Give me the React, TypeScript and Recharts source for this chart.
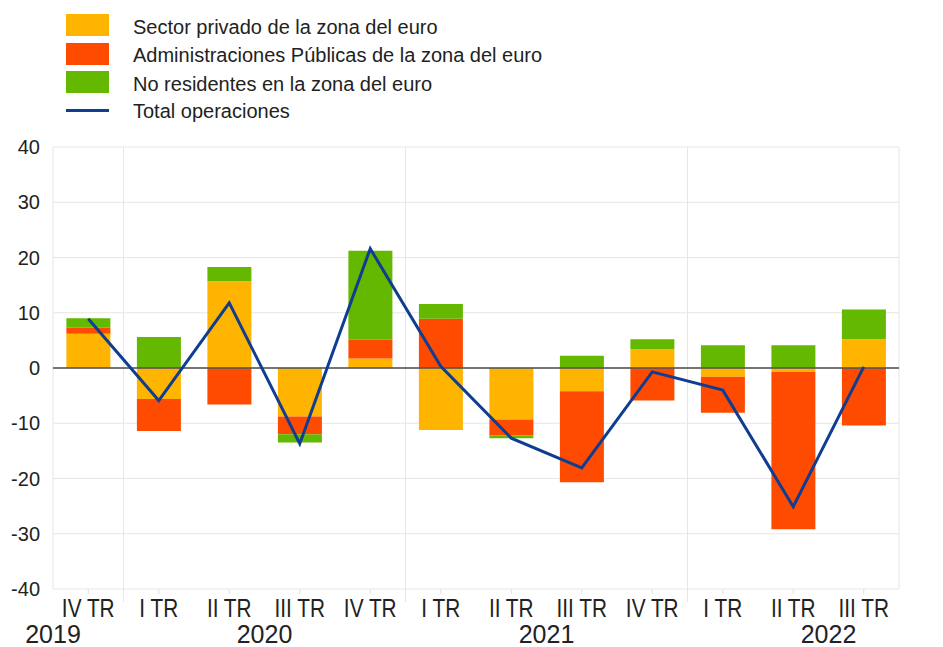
import React from 'react';
import { ComposedChart, Bar, Line, XAxis, YAxis, CartesianGrid, ReferenceLine } from 'recharts';

const quarters = ['IV TR', 'I TR', 'II TR', 'III TR', 'IV TR', 'I TR', 'II TR', 'III TR', 'IV TR', 'I TR', 'II TR', 'III TR'];
const privado = [6.2, -5.6, 15.7, -8.8, 1.7, -11.2, -9.3, -4.2, 3.4, -1.6, -0.7, 5.2];
const publicas = [1.1, -5.8, -6.6, -3.2, 3.4, 8.9, -2.9, -16.5, -5.9, -6.5, -28.5, -10.4];
const noResidentes = [1.7, 5.6, 2.6, -1.5, 16.1, 2.7, -0.5, 2.2, 1.8, 4.1, 4.1, 5.4];
const total = [8.9, -5.9, 11.8, -13.7, 21.6, 0.3, -12.7, -18.1, -0.7, -4.0, -25.1, 0.2];
const yTicks = [-40, -30, -20, -10, 0, 10, 20, 30, 40];
// index of the quarter next to which each year label sits, and which side of it
const yearLabels: Record<number, [string, number]> = { 0: ['2019', -0.5], 2: ['2020', 0.5], 6: ['2021', 0.5], 10: ['2022', 0.5] };
const yearStarts = [1, 5, 9];

const COLORS = { privado: '#FFB400', publicas: '#FF4B00', noRes: '#65B800', total: '#0f3d91' };
const LEGEND = [
  { label: 'Sector privado de la zona del euro', color: COLORS.privado },
  { label: 'Administraciones Públicas de la zona del euro', color: COLORS.publicas },
  { label: 'No residentes en la zona del euro', color: COLORS.noRes },
];

const W = 943, H = 647, LEFT_W = 53, RIGHT_W = 44, TOP = 147, X_H = 58;
const BAND = (W - LEFT_W - RIGHT_W) / quarters.length;
const FONT = 'Arial, "Liberation Sans", sans-serif';

const data = quarters.map((q, i) => ({
  q, privado: privado[i], publicas: publicas[i], noRes: noResidentes[i], total: total[i],
}));

function QuarterTick(props: any) {
  const { x, y, index, payload } = props;
  const yr = yearLabels[index];
  return (
    <g>
      {yearStarts.includes(index) && (
        <line x1={x - BAND / 2} x2={x - BAND / 2} y1={y - 5} y2={y + 8} stroke="#e6e6e6" />
      )}
      {/* the source uses a condensed face for the quarter labels */}
      <text transform={`translate(${x},${y + 23}) scale(0.8,1)`} textAnchor="middle" fontSize={26} fill="#222"
            fontFamily={FONT}>{payload.value}</text>
      {yr && (
        <text x={x + yr[1] * BAND} y={y} dy={49} textAnchor="middle" fontSize={25} fill="#222" fontFamily={FONT}>{yr[0]}</text>
      )}
    </g>
  );
}

function LegendBox() {
  return (
    <div style={{ position: 'absolute', left: 66, top: 11, fontFamily: FONT, fontSize: 20, color: '#222' }}>
      {LEGEND.map(l => (
        <div key={l.label} style={{ display: 'flex', alignItems: 'center', height: 28.5 }}>
          <div style={{ width: 43, height: 22, background: l.color }} />
          <span style={{ marginLeft: 24, marginTop: 4 }}>{l.label}</span>
        </div>
      ))}
      <div style={{ display: 'flex', alignItems: 'center', height: 28.5 }}>
        <div style={{ width: 43, height: 3, background: COLORS.total }} />
        <span style={{ marginLeft: 24, marginTop: 2 }}>Total operaciones</span>
      </div>
    </div>
  );
}

export default function App() {
  return (
    <div style={{ position: 'relative', width: W, height: H, background: '#fff' }}>
      <style>{'body{margin:0}'}</style>
      <LegendBox />
      <ComposedChart width={W} height={H} data={data} stackOffset="sign" barCategoryGap="19%"
                     margin={{ top: TOP, right: 0, bottom: 0, left: 0 }}>
        <CartesianGrid yAxisId="left" stroke="#e6e6e6"
                       verticalCoordinatesGenerator={({ offset }: any) =>
                         [0, ...yearStarts, quarters.length].map(k => offset.left + (offset.width * k) / quarters.length)} />
        <XAxis dataKey="q" height={X_H} axisLine={false} tickLine={{ stroke: '#e0e0e0' }} tickSize={5} tickMargin={0}
               interval={0} tick={<QuarterTick />} />
        <YAxis yAxisId="left" width={LEFT_W} domain={[-40, 40]} ticks={yTicks} axisLine={false} tickLine={false}
               tickMargin={7} tick={{ fontSize: 20, fill: '#222', fontFamily: FONT }} />
        <YAxis yAxisId="right" orientation="right" width={RIGHT_W} domain={[-40, 40]} ticks={yTicks} axisLine={false}
               tickLine={false} tickMargin={7} tick={{ fontSize: 20, fill: '#222', fontFamily: FONT, textAnchor: 'start' }} />
        <Bar yAxisId="left" dataKey="privado" stackId="s" fill={COLORS.privado} isAnimationActive={false} />
        <Bar yAxisId="left" dataKey="publicas" stackId="s" fill={COLORS.publicas} isAnimationActive={false} />
        <Bar yAxisId="left" dataKey="noRes" stackId="s" fill={COLORS.noRes} isAnimationActive={false} />
        <ReferenceLine yAxisId="left" y={0} stroke="#555" strokeWidth={2} strokeOpacity={0.8} />
        <Line yAxisId="left" dataKey="total" stroke={COLORS.total} strokeWidth={3} dot={false} type="linear"
              isAnimationActive={false} />
      </ComposedChart>
    </div>
  );
}
